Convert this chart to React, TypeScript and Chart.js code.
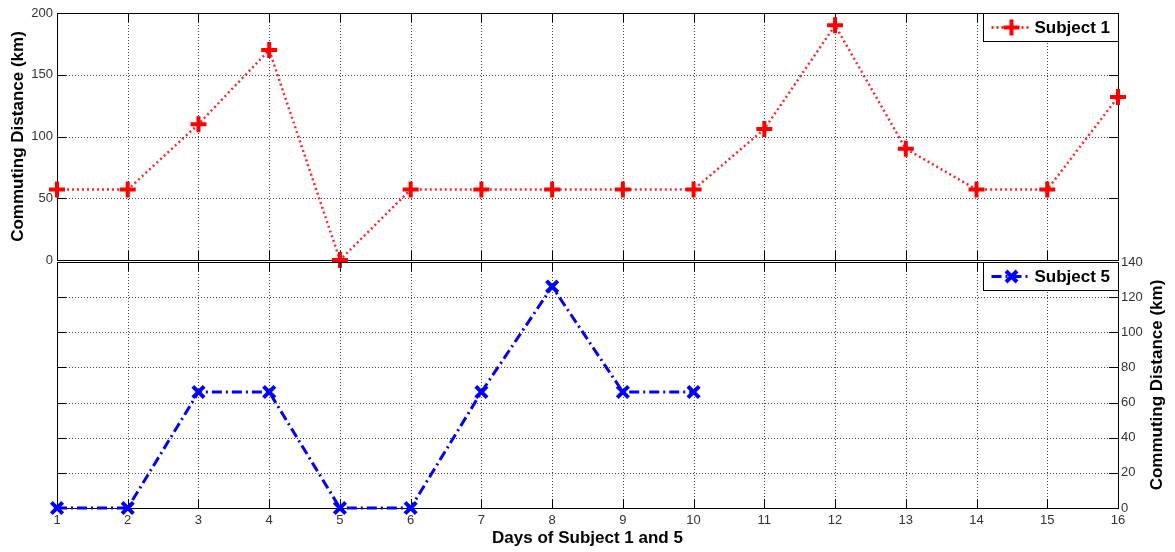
import React, { useEffect, useRef } from "react";
import { Chart, registerables } from "chart.js";
Chart.register(...registerables);

const days = [1, 2, 3, 4, 5, 6, 7, 8, 9, 10, 11, 12, 13, 14, 15, 16];
const subject1Km = [57, 57, 110, 170, 0, 57, 57, 57, 57, 57, 106, 190, 90, 57, 57, 132];
const subject5Days = [1, 2, 3, 4, 5, 6, 7, 8, 9, 10];
const subject5Km = [0, 0, 66, 66, 0, 0, 66, 126, 66, 66];
const topYTicks = { min: 0, max: 200, step: 50 };
const bottomYTicks = { min: 0, max: 140, step: 20 };
const subject1Label = "Subject 1";
const subject5Label = "Subject 5";
const yTitle = "Commuting Distance (km)";
const xTitle = "Days of Subject 1 and 5";

const FONT = "'Liberation Sans', Arial, sans-serif";

const framePlugin = {
  id: "frame",
  beforeDatasetsDraw(chart: any) {
    const { ctx, chartArea: a, scales } = chart;
    const L = 9;
    const xs = scales.x;
    const ys = scales.y;
    ctx.save();
    ctx.strokeStyle = "#444";
    ctx.lineWidth = 1;
    ctx.setLineDash([1, 2]);
    ctx.beginPath();
    xs.ticks.forEach((t: any) => {
      const px = Math.round(xs.getPixelForValue(t.value)) + 0.5;
      if (px <= a.left + 1 || px >= a.right - 1) return;
      ctx.moveTo(px, a.top);
      ctx.lineTo(px, a.bottom);
    });
    ys.ticks.forEach((t: any) => {
      const py = Math.round(ys.getPixelForValue(t.value)) + 0.5;
      if (py <= a.top + 1 || py >= a.bottom - 1) return;
      ctx.moveTo(a.left, py);
      ctx.lineTo(a.right, py);
    });
    ctx.stroke();
    ctx.strokeStyle = "#000";
    ctx.setLineDash([]);
    ctx.beginPath();
    xs.ticks.forEach((t: any) => {
      const px = Math.round(xs.getPixelForValue(t.value)) + 0.5;
      ctx.moveTo(px, a.top);
      ctx.lineTo(px, a.top + L);
      ctx.moveTo(px, a.bottom);
      ctx.lineTo(px, a.bottom - L);
    });
    ys.ticks.forEach((t: any) => {
      const py = Math.round(ys.getPixelForValue(t.value)) + 0.5;
      ctx.moveTo(a.left, py);
      ctx.lineTo(a.left + L, py);
      ctx.moveTo(a.right, py);
      ctx.lineTo(a.right - L, py);
    });
    ctx.stroke();
    ctx.strokeRect(Math.round(a.left) + 0.5, Math.round(a.top) + 0.5, Math.round(a.width), Math.round(a.height));
    ctx.restore();
  },
};

const decoPlugin = {
  id: "deco",
  afterDraw(chart: any, _args: any, opts: any) {
    const { ctx, chartArea: a } = chart;
    ctx.save();
    const lg = opts.legend;
    if (lg) {
      const x0 = Math.round(a.right - 135) + 0.5;
      const y0 = Math.round(a.top) + 0.5;
      const h = 28;
      ctx.fillStyle = "#fff";
      ctx.fillRect(x0, y0, a.right - x0, h);
      ctx.strokeStyle = "#000";
      ctx.lineWidth = 1;
      ctx.setLineDash([]);
      ctx.strokeRect(x0, y0, Math.round(a.right) - x0 + 0.5, h);
      const cy = y0 + h / 2;
      ctx.strokeStyle = lg.color;
      ctx.lineWidth = lg.lineWidth;
      ctx.setLineDash(lg.dash);
      ctx.beginPath();
      ctx.moveTo(x0 + 8, cy);
      ctx.lineTo(x0 + 48, cy);
      ctx.stroke();
      ctx.setLineDash([]);
      ctx.lineWidth = 4;
      ctx.beginPath();
      const mx = x0 + 28;
      if (lg.marker === "cross") {
        ctx.moveTo(mx - 8, cy);
        ctx.lineTo(mx + 8, cy);
        ctx.moveTo(mx, cy - 8);
        ctx.lineTo(mx, cy + 8);
      } else {
        ctx.moveTo(mx - 5.5, cy - 5.5);
        ctx.lineTo(mx + 5.5, cy + 5.5);
        ctx.moveTo(mx - 5.5, cy + 5.5);
        ctx.lineTo(mx + 5.5, cy - 5.5);
      }
      ctx.stroke();
      ctx.fillStyle = "#000";
      ctx.font = `bold 17px ${FONT}`;
      ctx.textBaseline = "middle";
      ctx.textAlign = "left";
      ctx.fillText(lg.text, x0 + 51, cy + 1);
    }
    if (opts.yTitle) {
      ctx.fillStyle = "#000";
      ctx.font = `bold 17px ${FONT}`;
      ctx.textAlign = "center";
      ctx.textBaseline = "middle";
      ctx.translate(opts.yTitleX, (a.top + a.bottom) / 2);
      ctx.rotate(-Math.PI / 2);
      ctx.fillText(opts.yTitle, 0, 0);
      ctx.setTransform(1, 0, 0, 1, 0, 0);
    }
    if (opts.xTitle) {
      ctx.fillStyle = "#000";
      ctx.font = `bold 17px ${FONT}`;
      ctx.textAlign = "center";
      ctx.textBaseline = "middle";
      ctx.fillText(opts.xTitle, (a.left + a.right) / 2, opts.xTitleY);
    }
    ctx.restore();
  },
};

const noGrid = { display: false, drawTicks: false };

const fixY = (s: any) => {
  s.width = 57;
  s.paddingTop = 0;
  s.paddingBottom = 0;
};
const fixX = (h: number) => (s: any) => {
  s.height = h;
  s.paddingLeft = 0;
  s.paddingRight = 0;
};

function makeTop(canvas: HTMLCanvasElement) {
  return new Chart(canvas, {
    type: "line",
    data: {
      datasets: [
        {
          label: subject1Label,
          data: days.map((d, i) => ({ x: d, y: subject1Km[i] })),
          borderColor: "rgba(255,0,0,0.85)",
          borderWidth: 2.5,
          borderDash: [2, 3],
          pointStyle: "cross",
          pointRadius: 8,
          pointBorderWidth: 4,
          pointBorderColor: "#ff0000",
          pointBackgroundColor: "#ff0000",
          clip: false,
          tension: 0,
        },
      ],
    },
    options: {
      animation: false,
      responsive: false,
      events: [],
      layout: { autoPadding: false, padding: { left: 0, right: 57, top: 13, bottom: 0 } },
      plugins: {
        legend: { display: false },
        tooltip: { enabled: false },
        deco: {
          legend: { text: subject1Label, color: "#ff0000", lineWidth: 2.5, dash: [2, 3], marker: "cross" },
          yTitle: yTitle,
          yTitleX: 18,
        },
      } as any,
      scales: {
        x: {
          type: "linear",
          min: 1,
          max: 16,
          ticks: { stepSize: 1, display: false },
          grid: noGrid as any,
          border: { display: false },
          afterFit: fixX(12),
        },
        y: {
          type: "linear",
          position: "left",
          min: topYTicks.min,
          max: topYTicks.max,
          ticks: { stepSize: topYTicks.step, color: "#333", font: { size: 13, family: FONT }, padding: 4 },
          grid: noGrid as any,
          border: { display: false },
          afterFit: fixY,
        },
      },
    },
    plugins: [framePlugin, decoPlugin],
  } as any);
}

function makeBottom(canvas: HTMLCanvasElement) {
  return new Chart(canvas, {
    type: "line",
    data: {
      datasets: [
        {
          label: subject5Label,
          data: subject5Days.map((d, i) => ({ x: d, y: subject5Km[i] })),
          borderColor: "#0000ff",
          borderWidth: 3,
          borderDash: [10, 4, 2, 4],
          pointStyle: "crossRot",
          pointRadius: 8,
          pointBorderWidth: 4,
          pointBorderColor: "#0000ff",
          pointBackgroundColor: "#0000ff",
          clip: false,
          tension: 0,
        },
      ],
    },
    options: {
      animation: false,
      responsive: false,
      events: [],
      layout: { autoPadding: false, padding: { left: 57, right: 0, top: 10, bottom: 0 } },
      plugins: {
        legend: { display: false },
        tooltip: { enabled: false },
        deco: {
          legend: { text: subject5Label, color: "#0000ff", lineWidth: 3, dash: [10, 4, 2, 4], marker: "x" },
          yTitle: yTitle,
          yTitleX: 1157,
          xTitle: xTitle,
          xTitleY: 286,
        },
      } as any,
      scales: {
        x: {
          type: "linear",
          min: 1,
          max: 16,
          ticks: { stepSize: 1, color: "#333", font: { size: 13, family: FONT }, padding: 5 },
          grid: noGrid as any,
          border: { display: false },
          afterFit: fixX(44),
        },
        y: {
          type: "linear",
          position: "right",
          min: bottomYTicks.min,
          max: bottomYTicks.max,
          ticks: { stepSize: bottomYTicks.step, color: "#333", font: { size: 13, family: FONT }, padding: 3 },
          grid: noGrid as any,
          border: { display: false },
          afterFit: fixY,
        },
      },
    },
    plugins: [framePlugin, decoPlugin],
  } as any);
}

export default function App() {
  const topRef = useRef<HTMLCanvasElement>(null);
  const botRef = useRef<HTMLCanvasElement>(null);
  useEffect(() => {
    Chart.defaults.font.family = FONT;
    const c1 = makeTop(topRef.current!);
    const c2 = makeBottom(botRef.current!);
    return () => {
      c1.destroy();
      c2.destroy();
    };
  }, []);
  return (
    <div style={{ position: "absolute", left: 0, top: 0, width: 1175, height: 552, background: "#fff" }}>
      <canvas ref={topRef} width={1175} height={272} style={{ position: "absolute", left: 0, top: 0, width: 1175, height: 272 }} />
      <canvas ref={botRef} width={1175} height={300} style={{ position: "absolute", left: 0, top: 252, width: 1175, height: 300 }} />
    </div>
  );
}
